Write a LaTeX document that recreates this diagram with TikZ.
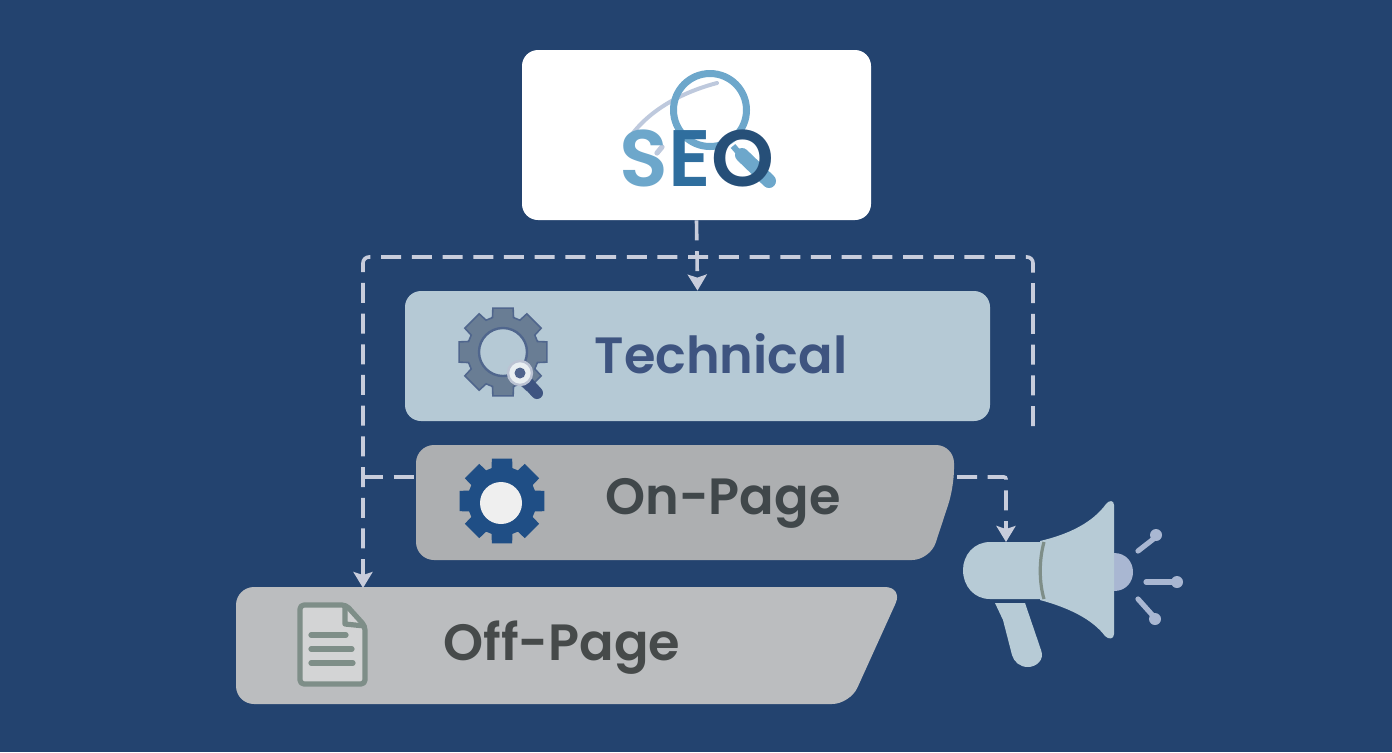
\documentclass[tikz,border=0pt]{standalone}
\usepackage{fontspec}
\setmainfont{Poppins SemiBold}
\usetikzlibrary{calc,arrows.meta}
\definecolor{navy}{HTML}{23436F}
\definecolor{techfill}{HTML}{B5C9D5}
\definecolor{onfill}{HTML}{ADAFB1}
\definecolor{offfill}{HTML}{BBBDBF}
\definecolor{techtext}{HTML}{3E5480}
\definecolor{ontext}{HTML}{40474A}
\definecolor{offtext}{HTML}{464A4A}
\definecolor{dashcol}{HTML}{C8CDDC}
\definecolor{seolight}{HTML}{6DA7CB}
\definecolor{seomid}{HTML}{2F6E9E}
\definecolor{seodark}{HTML}{264F78}
\definecolor{megafill}{HTML}{B7CBD6}
\definecolor{megaray}{HTML}{A9B7D2}
\definecolor{docline}{HTML}{7E8E88}
\definecolor{gearmid}{HTML}{697D94}
\definecolor{gearblue}{HTML}{1F4E85}
\tikzset{
  box/.style={rounded corners=8pt, inner sep=0pt},
  lab/.style={font=\fontsize{25.5}{25.5}\selectfont, inner sep=0pt, anchor=base},
  link/.style={draw=dashcol, line width=1.8pt, dash pattern=on 10pt off 5.35pt},
  tip/.style={-{Stealth[inset=1.5pt,length=8pt,width=9.5pt]}},
  ray/.style={draw=megaray, line width=2.6pt, line cap=round},
}
% gear at centre #1,#2 with outer radius #3, root radius #4
\newcommand{\gearat}[5]{
  \begin{scope}[shift={(#1,#2)}]
    \draw[#5] (-17:#4) \foreach \a in {0,45,...,315}{ -- (\a-17:#4) -- (\a-13:#3) -- (\a+13:#3) -- (\a+17:#4) } -- cycle;
  \end{scope}
}
\begin{document}
\begin{tikzpicture}[x=0.5pt,y=-0.5pt]
  \fill[navy] (0,0) rectangle (1392,752);
  \useasboundingbox (0,0) rectangle (1392,752);

  % boxes
  \node[box, fill=white, minimum width=174.5pt, minimum height=85pt] (seo) at (696.5,135) {};
  \node[box, fill=techfill, minimum width=292.5pt, minimum height=65pt] (tech) at (697.5,356) {};
  \fill[onfill, rounded corners=9pt] (416,445) -- (954,445) -- (954,487) -- (930,560) -- (416,560) -- cycle;
  \fill[offfill, rounded corners=9pt] (236,587) -- (903,587) -- (850,704) -- (236,704) -- cycle;
  \coordinate (onW) at (416,477);
  \coordinate (onE) at (957,477);
  \coordinate (offN) at (363,588);
  \coordinate (megaN) at (1006,542);
  \coordinate (busL) at (363,477);
  \coordinate (busR) at (1033,426);

  % connectors
  \draw[link, tip] (seo.south) -- (tech.north);
  \draw[link, tip, rounded corners=3pt] (busR) -- (1033,257) -- (363,257) -- (offN);
  \draw[link] (busL) -- (onW);
  \draw[link, tip, rounded corners=1pt] (onE) -- (1006,477) -- (megaN);

  % labels
  \node[lab, text=techtext] (techlab) at (721,373) {Technical};
  \node[lab, text=ontext] (onlab) at (723,514) {On-Page};
  \node[lab, text=offtext] (offlab) at (562,660) {Off-Page};

  % seo logo
  \draw[draw=megaray!75, line width=2pt, line cap=round] (633,133) .. controls (655,105) and (690,90) .. (717,83);
  \draw[draw=megaray!75, line width=2.6pt, line cap=round] (662,147) -- (657,153);
  \draw[draw=seolight, line width=3.5pt] (710,110) circle (36.5);
  \draw[draw=seolight, line width=3pt] (733,146) -- (739,153);
  \draw[draw=seolight, line width=7pt, line cap=round] (742,155) -- (769,181);
  \node[inner sep=0pt, anchor=base, font=\fontsize{40}{40}\selectfont] (seolab) at (697,186)
    {\textcolor{seolight}{S}\textcolor{seomid}{E}\textcolor{seodark}{O}};

  % technical gear
  \gearat{503}{352}{45}{36}{fill=gearmid, draw=techtext!85!techfill, line width=0.8pt}
  \draw[fill=techfill, draw=techtext!85!techfill, line width=1.2pt] (503,352) circle (24);
  \draw[draw=techtext, line width=6pt, line cap=round] (527,382) -- (537,393);
  \draw[fill=techfill!30!white, draw=techtext!35!white, line width=1.2pt] (520,373) circle (12);
  \fill[techtext!85!techfill] (520,373) circle (5.5);

  % on-page gear
  \gearat{502}{501}{43}{34}{fill=gearblue, draw=gearblue, line width=0.5pt}
  \fill[white!80!onfill] (501,503) circle (21);

  % off-page doc
  \draw[fill=white!35!offfill, draw=docline, line width=2.6pt, line join=round, rounded corners=2pt] (300,605) -- (346,605) -- (365,626) -- (365,684) -- (300,684) -- cycle;
  \draw[draw=docline, line width=2.6pt, line join=round] (345,605) -- (345,624) -- (365,626);
  \draw[draw=docline, line width=2.6pt, line cap=round] (311,635) -- (346,635) (311,649) -- (352,649) (311,663) -- (353,663);

  % megaphone
  \fill[megaray] (1114,553) .. controls (1126,553) and (1133,562) .. (1133,572) .. controls (1133,582) and (1126,591) .. (1114,591) -- cycle;
  \fill[megafill] (1042,542) -- (990,542) .. controls (974,542) and (963,555) .. (963,570) .. controls (963,586) and (974,599) .. (990,599) -- (1042,599) -- cycle;
  \fill[megafill] (1040,541) .. controls (1070,534) and (1093,522) .. (1106,504) .. controls (1109,500) and (1114,500) .. (1114,505) -- (1114,634) .. controls (1114,639) and (1109,640) .. (1105,636) .. controls (1093,620) and (1070,608) .. (1040,600) -- cycle;
  \draw[draw=docline, line width=1.6pt] (1044,542) .. controls (1039,560) and (1039,582) .. (1044,599);
  \fill[megafill] (995,603) -- (1025,603) -- (1041,650) .. controls (1045,660) and (1036,667) .. (1028,667) .. controls (1020,667) and (1014,662) .. (1012,655) -- (1003,620) -- cycle;
  \draw[ray] (1138,551) -- (1156,537);
  \draw[ray] (1146,582) -- (1177,582);
  \draw[ray] (1138,599) -- (1155,618);
  \fill[megaray] (1156,535) circle (6) (1177,582) circle (6) (1155,619) circle (6);
\end{tikzpicture}
\end{document}
